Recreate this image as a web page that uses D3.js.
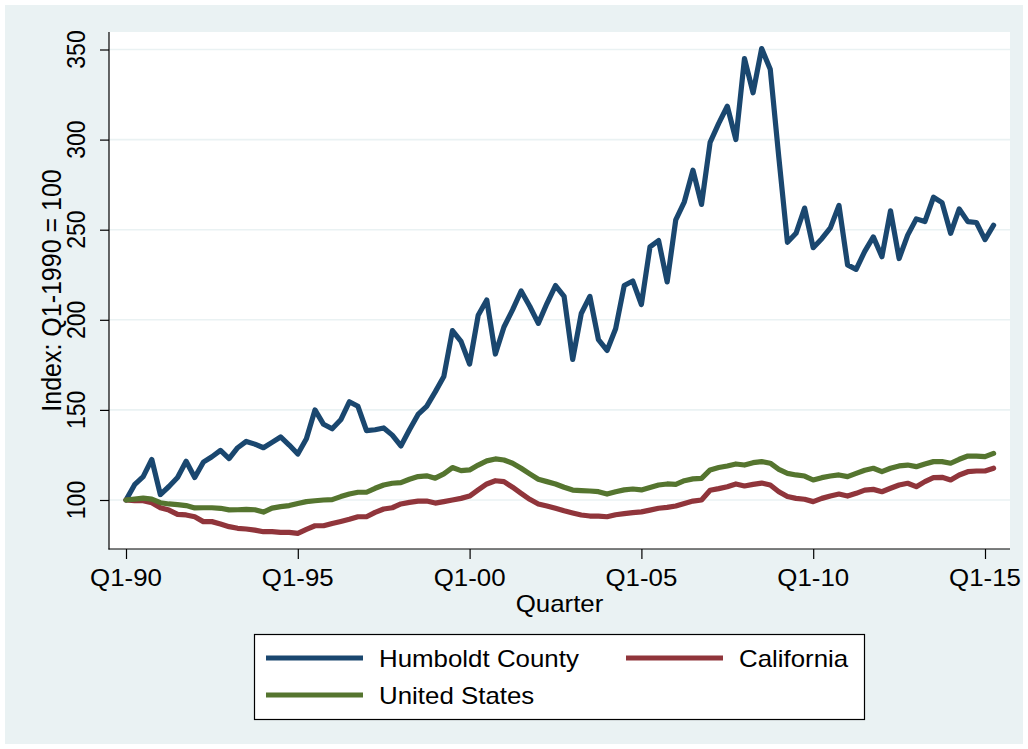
<!DOCTYPE html>
<html>
<head>
<meta charset="utf-8">
<script src="https://cdn.jsdelivr.net/npm/d3@7"></script>
<style>
  html, body { margin: 0; padding: 0; background: #ffffff; }
  svg { display: block; }
  text { font-family: "Liberation Sans", Arial, Helvetica, sans-serif; fill: #000; }
</style>
</head>
<body>
<svg id="chart" width="1028" height="749"></svg>
<script>
// ---------- data ----------
const quarterCount = 102;         // Q1-1990 .. Q2-2015

const humboldt = [
  100, 108.5, 113, 122.5, 103, 107.5, 112.5, 121.5, 112.5, 121,
  124, 127.5, 123, 129, 132.5, 131, 129, 132, 135, 130.5,
  125.5, 134, 150, 142, 139.5, 144.5, 154.5, 152, 138.5, 139,
  140, 136, 130, 139, 147.5, 152, 160, 168.5, 194, 188,
  175.5, 202.5, 211, 181, 196, 205.5, 216, 207.5, 198, 209,
  219, 213, 178, 203.5, 213, 189, 183, 195, 219, 221.5,
  208.5, 240.5, 244, 221, 255.5, 265.5, 283, 264, 298.5, 309,
  318.5, 300, 345, 326, 350.5, 339, 290, 243, 248, 262,
  240, 245, 251, 263.5, 230.5, 228, 238, 246, 235, 260.5,
  234, 247, 256, 254.5, 268, 265, 248, 261.5, 254.5, 254,
  244.5, 252.5
];

const california = [
  100, 99.6, 99.6, 98.5, 95.7, 94.4, 92, 91.7, 90.7, 88,
  88, 86.7, 85.2, 84.3, 83.9, 83.3, 82.4, 82.4, 82, 82,
  81.5, 83.7, 85.7, 85.7, 87, 88.1, 89.3, 90.7, 90.7, 93.1,
  95, 95.7, 97.8, 98.7, 99.4, 99.4, 98.3, 99.1, 100, 100.9,
  102.2, 105.6, 108.9, 110.7, 110.2, 107.1, 103.7, 100.4, 97.8, 96.7,
  95.4, 94, 92.8, 91.7, 91.1, 91, 90.7, 91.8, 92.4, 93,
  93.4, 94.4, 95.4, 95.9, 96.7, 98.1, 99.4, 100, 105.4, 106.3,
  107.4, 108.9, 107.8, 108.7, 109.4, 108.3, 104.6, 101.9, 100.9, 100.4,
  99.1, 100.9, 102.2, 103.3, 102.2, 103.7, 105.5, 105.9, 104.6, 106.5,
  108.3, 109.3, 107.4, 110.2, 112.4, 112.6, 111.1, 113.9, 115.7, 116.1,
  116.1, 117.6
];

const unitedStates = [
  100, 100.5, 101, 100.5, 98.5, 97.8, 97.4, 96.9, 95.6, 95.7,
  95.7, 95.4, 94.5, 94.6, 94.8, 94.6, 93.3, 95.5, 96.3, 96.9,
  98.1, 99.1, 99.6, 100, 100.2, 101.9, 103.3, 104.3, 104.3, 106.5,
  108.3, 109.3, 109.6, 111.5, 113, 113.4, 112.1, 114.5, 118, 116.3,
  116.7, 119.4, 121.7, 122.8, 122.2, 120.4, 117.6, 114.5, 111.5, 110.2,
  108.9, 107.1, 105.5, 105.2, 105, 104.6, 103.3, 104.6, 105.6, 106.1,
  105.6, 107, 108.3, 108.9, 108.7, 110.7, 111.7, 112, 116.7, 118,
  118.9, 120, 119.4, 120.7, 121.3, 120.4, 117, 114.8, 113.9, 113.3,
  111.1, 112.4, 113.3, 113.9, 113, 114.8, 116.5, 117.6, 115.7, 117.6,
  118.9, 119.4, 118.5, 120, 121.3, 121.3, 120.4, 122.6, 124.4, 124.4,
  124.1, 125.9
];

const xTickQuarters = [0, 20, 40, 60, 80, 100];
const xTickLabels = ["Q1-90", "Q1-95", "Q1-00", "Q1-05", "Q1-10", "Q1-15"];
const yTicks = [100, 150, 200, 250, 300, 350];

const seriesNames = ["Humboldt County", "California", "United States"];
const seriesColors = ["#1a476f", "#90353b", "#55752f"];

// ---------- layout ----------
const W = 1028, H = 749;
const plot = { left: 109, right: 1010, top: 32, bottom: 549 };
const stretch = 1.125;   // horizontal text stretch seen in the reference

const svg = d3.select("#chart");

svg.append("rect").attr("x", 0).attr("y", 0).attr("width", W).attr("height", H)
  .attr("fill", "#ffffff");
svg.append("rect").attr("x", 5).attr("y", 5).attr("width", W - 10).attr("height", H - 10)
  .attr("fill", "#eaf2f3");

svg.append("rect")
  .attr("x", plot.left).attr("y", plot.top)
  .attr("width", plot.right - plot.left).attr("height", plot.bottom - plot.top)
  .attr("fill", "#ffffff");

const x = d3.scaleLinear().domain([0, 100]).range([126, 985]);
const y = d3.scaleLinear().domain([100, 350]).range([500, 49.5]);

function addText(px, py, str, size, anchor, rotate) {
  return svg.append("text")
    .attr("transform", `translate(${px},${py}) scale(${stretch},1)` + (rotate ? " rotate(-90)" : ""))
    .attr("text-anchor", anchor)
    .style("font-size", size + "px")
    .text(str);
}

// gridlines
svg.append("g").selectAll("line").data(yTicks).join("line")
  .attr("x1", plot.left).attr("x2", plot.right)
  .attr("y1", d => y(d)).attr("y2", d => y(d))
  .attr("stroke", "#eaf2f3").attr("stroke-width", 1.6);

// series lines
const series = [humboldt, california, unitedStates];
const line = d3.line().x((d, i) => x(i)).y(d => y(d));
series.forEach((s, k) => {
  svg.append("path")
    .datum(s.slice(0, quarterCount))
    .attr("d", line)
    .attr("fill", "none")
    .attr("stroke", seriesColors[k])
    .attr("stroke-width", 5.2)
    .attr("stroke-linejoin", "round")
    .attr("stroke-linecap", "round");
});

// y axis
const yAxisG = svg.append("g").attr("transform", `translate(${plot.left},0)`);
yAxisG.call(d3.axisLeft(y).tickValues(yTicks).tickSize(9).tickFormat(""));
yAxisG.select(".domain").remove();
yAxisG.selectAll(".tick line").attr("stroke", "#000").attr("stroke-width", 1.2);
svg.append("line").attr("x1", plot.left).attr("x2", plot.left)
  .attr("y1", plot.top).attr("y2", plot.bottom + 0.5)
  .attr("stroke", "#000").attr("stroke-width", 1.2);
yTicks.forEach(t => addText(85, y(t), String(t), 23, "middle", true));

// x axis
const xAxisG = svg.append("g").attr("transform", `translate(0,${plot.bottom})`);
xAxisG.call(d3.axisBottom(x).tickValues(xTickQuarters).tickSize(10).tickFormat(""));
xAxisG.select(".domain").remove();
xAxisG.selectAll(".tick line").attr("stroke", "#000").attr("stroke-width", 1.2);
svg.append("line").attr("x1", plot.left - 0.5).attr("x2", plot.right)
  .attr("y1", plot.bottom).attr("y2", plot.bottom)
  .attr("stroke", "#000").attr("stroke-width", 1.2);
xTickQuarters.forEach((q, i) => addText(x(q), 586, xTickLabels[i], 23, "middle", false));

// axis titles
addText((plot.left + plot.right) / 2, 612, "Quarter", 23, "middle", false);
addText(61, (plot.top + plot.bottom) / 2, "Index: Q1-1990 = 100", 25, "middle", true);

// legend
const leg = { x: 254, y: 634, w: 610, h: 85 };
svg.append("rect").attr("x", leg.x + 0.5).attr("y", leg.y + 0.5)
  .attr("width", leg.w).attr("height", leg.h)
  .attr("fill", "#ffffff").attr("stroke", "#000").attr("stroke-width", 1.2);
const legPos = [
  { lx: 266, ty: 658 },
  { lx: 626, ty: 658 },
  { lx: 266, ty: 695 }
];
seriesNames.forEach((name, k) => {
  const p = legPos[k];
  svg.append("line")
    .attr("x1", p.lx).attr("x2", p.lx + 97)
    .attr("y1", p.ty).attr("y2", p.ty)
    .attr("stroke", seriesColors[k]).attr("stroke-width", 5.2);
  addText(p.lx + 113, p.ty + 9, name, 23, "start", false);
});
</script>
</body>
</html>
